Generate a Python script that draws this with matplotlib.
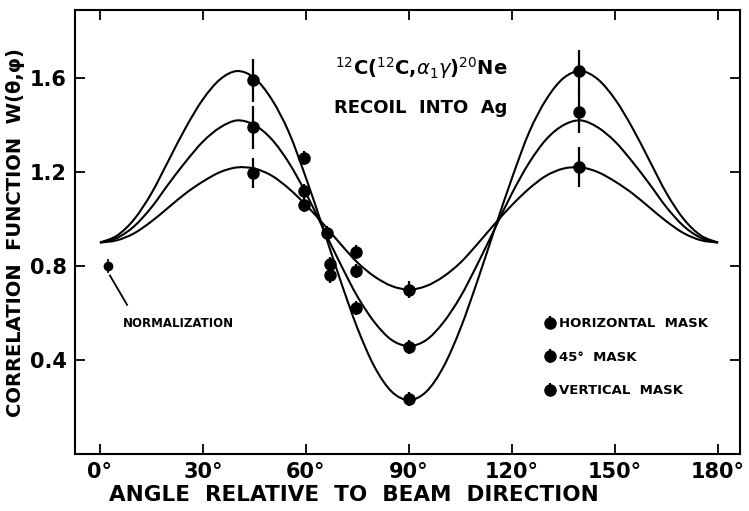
import matplotlib
matplotlib.use("Agg")
import matplotlib.pyplot as plt
from matplotlib.path import Path
from matplotlib.patches import PathPatch
import numpy as np

# curves, 0..90 deg in 5 deg steps (mirror image for 90..180)
ang_half = [0, 5, 10, 15, 20, 25, 30, 35, 40, 45, 50, 55, 60, 65, 70, 75, 80, 85, 90]
curve_big = [0.90, 0.93, 1.00, 1.11, 1.25, 1.39, 1.51, 1.595, 1.63, 1.60, 1.51, 1.37, 1.175,
             0.96, 0.74, 0.535, 0.37, 0.265, 0.23]
curve_mid = [0.90, 0.92, 0.97, 1.05, 1.15, 1.245, 1.33, 1.39, 1.42, 1.40, 1.34, 1.24, 1.11,
             0.96, 0.81, 0.67, 0.56, 0.485, 0.46]
curve_small = [0.90, 0.91, 0.94, 0.99, 1.05, 1.11, 1.16, 1.20, 1.22, 1.215, 1.185, 1.13, 1.06,
               0.98, 0.895, 0.815, 0.755, 0.715, 0.70]

# measured points
x_vert = [44.5, 59.5, 67, 74.5, 90, 139.5]
y_vert = [1.59, 1.26, 0.76, 0.62, 0.235, 1.63]
e_vert = [0.09, 0.03, 0.03, 0.03, 0.03, 0.09]

x_45 = [44.5, 59.5, 67, 74.5, 90, 139.5]
y_45 = [1.39, 1.12, 0.81, 0.78, 0.455, 1.455]
e_45 = [0.09, 0.03, 0.03, 0.03, 0.03, 0.09]

x_hor = [44.5, 59.5, 66, 74.5, 90, 139.5]
y_hor = [1.196, 1.06, 0.94, 0.86, 0.70, 1.22]
e_hor = [0.065, 0.03, 0.03, 0.03, 0.035, 0.085]

x_norm = [2.3]
y_norm = [0.80]

xticks = [0, 30, 60, 90, 120, 150, 180]
xtick_labels = ["0°", "30°", "60°", "90°", "120°", "150°", "180°"]
yticks = [0.4, 0.8, 1.2, 1.6]
ytick_labels = ["0.4", "0.8", "1.2", "1.6"]


# smooth line through the read points (catmull-rom as bezier segments)
def smooth_path(x, y):
    p = np.column_stack([x, y])
    verts = [p[0]]
    codes = [Path.MOVETO]
    n = len(p)
    for i in range(n - 1):
        p0 = p[i - 1] if i > 0 else p[i]
        p1 = p[i]
        p2 = p[i + 1]
        p3 = p[i + 2] if i + 2 < n else p[i + 1]
        verts += [p1 + (p2 - p0) / 6, p2 - (p3 - p1) / 6, p2]
        codes += [Path.CURVE4] * 3
    return Path(verts, codes)


plt.rcParams['font.family'] = ['DejaVu Sans']
plt.rcParams['mathtext.fontset'] = 'dejavusans'

fig = plt.figure(figsize=(7.49, 5.11), dpi=100)
ax = fig.add_axes([0.100, 0.1115, 0.888, 0.8685])

ang = np.array(ang_half)
ang_full = np.concatenate([ang, 180 - ang[::-1][1:]])
for c in (curve_big, curve_mid, curve_small):
    c = np.array(c)
    path = smooth_path(ang_full, np.concatenate([c, c[::-1][1:]]))
    ax.add_patch(PathPatch(path, fill=False, edgecolor='black', lw=1.5))

style = dict(fmt='o', color='black', ms=8, elinewidth=1.6, capsize=0)
h1 = ax.errorbar(x_hor, y_hor, yerr=e_hor, **style)
h2 = ax.errorbar(x_45, y_45, yerr=e_45, **style)
h3 = ax.errorbar(x_vert, y_vert, yerr=e_vert, **style)
ax.errorbar(x_norm, y_norm, yerr=[0.03], fmt='o', color='black', ms=6, elinewidth=1.2)

# leader line to the normalization label
ax.plot([x_norm[0] + 0.6, 7.9], [y_norm[0] - 0.04, 0.635], color='black', lw=1.3)
ax.text(6.7, 0.555, "NORMALIZATION", fontsize=8.5, fontweight='bold', ha='left', va='center')

ax.text(0.52, 0.87, r'$^{12}$C($^{12}$C,$\alpha_1\gamma$)$^{20}$Ne', transform=ax.transAxes,
        fontsize=14, fontweight='bold', ha='center', va='center')
ax.text(0.52, 0.78, "RECOIL  INTO  Ag", transform=ax.transAxes,
        fontsize=13, fontweight='bold', ha='center', va='center')

ax.set_xlim(-7.3, 186.4)
ax.set_ylim(0, 1.889)
ax.set_xticks(xticks)
ax.set_xticklabels(xtick_labels, fontsize=15, fontweight='bold')
ax.set_yticks(yticks)
ax.set_yticklabels(ytick_labels, fontsize=15, fontweight='bold')
ax.tick_params(direction='in', length=7, width=1.3, top=True, right=True, pad=6)
for s in ax.spines.values():
    s.set_linewidth(1.5)

ax.set_xlabel("ANGLE  RELATIVE  TO  BEAM  DIRECTION", fontsize=15.5, fontweight='bold')
ax.xaxis.set_label_coords(0.42, -0.07)
ax.set_ylabel("CORRELATION  FUNCTION  W(θ,φ)", fontsize=14, fontweight='bold')
ax.yaxis.set_label_coords(-0.075, 0.5)

ax.legend([h1, h2, h3], ["HORIZONTAL  MASK", "45°  MASK", "VERTICAL  MASK"],
          loc='upper left', bbox_to_anchor=(0.69, 0.335), frameon=False,
          handlelength=0.7, handletextpad=0.3, labelspacing=1.55,
          prop=dict(size=9.5, weight='bold'))

fig.savefig("out.png", dpi=100)
